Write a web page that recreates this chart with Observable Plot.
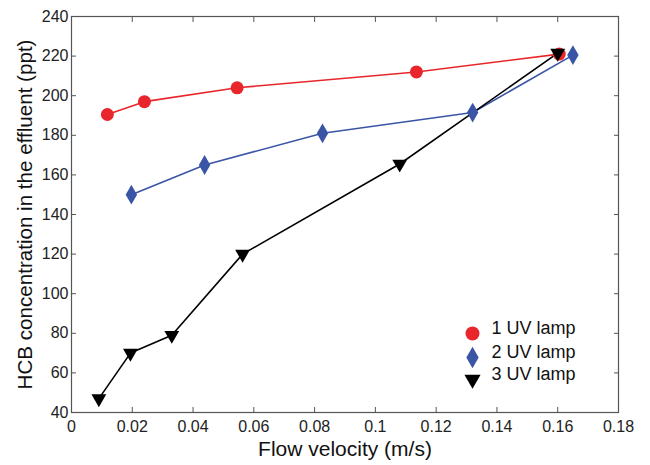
<!DOCTYPE html>
<html>
<head>
<meta charset="utf-8">
<script src="https://cdn.jsdelivr.net/npm/d3@7"></script>
<script src="https://cdn.jsdelivr.net/npm/@observablehq/plot@0.6"></script>
<style>
  html, body { margin: 0; padding: 0; background: #fff; }
  #chart svg { display: block; }
</style>
</head>
<body>
<div id="chart"></div>
<script>
const seriesNames = ["1 UV lamp", "2 UV lamp", "3 UV lamp"];
const seriesColors = ["#e8262c", "#3a55a6", "#000000"];
const seriesSymbols = ["circle", "diamond", "triangle"];
const seriesRotate = [0, 0, 180];

const x1 = [0.0118, 0.0240, 0.0545, 0.1135, 0.1605];
const y1 = [190.5, 197, 204, 212, 221];
const x2 = [0.0197, 0.0438, 0.0826, 0.1320, 0.1650];
const y2 = [150, 165, 181, 191.5, 220.5];
const x3 = [0.0090, 0.0194, 0.0330, 0.0563, 0.1080, 0.1600];
const y3 = [47, 70, 79, 120, 165.5, 221.5];

const xTicks = [0, 0.02, 0.04, 0.06, 0.08, 0.1, 0.12, 0.14, 0.16, 0.18];
const yTicks = [40, 60, 80, 100, 120, 140, 160, 180, 200, 220, 240];

const xs = [x1, x2, x3], ys = [y1, y2, y3];
const data = [];
seriesNames.forEach((s, i) => xs[i].forEach((x, j) => data.push({series: s, idx: i, x, y: ys[i][j]})));

const symR = [6.5, 6, 5.5];
const font = "Liberation Sans, Arial, Helvetica, sans-serif";
const marks = [
  Plot.frame({stroke: "#555", strokeWidth: 1.2}),
  Plot.axisX({anchor: "bottom", ticks: xTicks, tickSize: -5, tickPadding: 13, fontSize: 16,
    tickFormat: d => String(+d.toFixed(2)), label: null, stroke: "#555", color: "#222"}),
  Plot.axisX({anchor: "top", ticks: xTicks, tickSize: -5, tickFormat: () => "", label: null, stroke: "#555"}),
  Plot.axisY({anchor: "left", ticks: yTicks, tickSize: -5, tickPadding: 8, fontSize: 16,
    label: null, stroke: "#555", color: "#222"}),
  Plot.axisY({anchor: "right", ticks: yTicks, tickSize: -5, tickFormat: () => "", label: null, stroke: "#555"}),
];

seriesNames.forEach((s, i) => {
  const d = data.filter(e => e.idx === i);
  marks.push(Plot.line(d, {x: "x", y: "y", stroke: seriesColors[i], strokeWidth: 1.6}));
});
seriesNames.forEach((s, i) => {
  const d = data.filter(e => e.idx === i);
  marks.push(Plot.dot(d, {x: "x", y: "y", fill: seriesColors[i], stroke: "none",
    symbol: () => seriesSymbols[i], r: symR[i], rotate: seriesRotate[i]}));
});

// legend
const legendDy = [-79, -55, -33];
seriesNames.forEach((s, i) => {
  marks.push(Plot.dot([s], {frameAnchor: "bottom-right", dx: -146, dy: legendDy[i],
    fill: seriesColors[i], symbol: () => seriesSymbols[i], r: symR[i] + 0.5, rotate: seriesRotate[i]}));
  marks.push(Plot.text([s], {frameAnchor: "bottom-right", dx: -127, dy: legendDy[i], text: d => d,
    textAnchor: "start", fontSize: 18, fill: "#111"}));
});

marks.push(Plot.text(["Flow velocity (m/s)"], {frameAnchor: "bottom", dy: 37, lineAnchor: "middle",
  text: d => d, fontSize: 21, fill: "#111"}));
marks.push(Plot.text(["HCB concentration in the effluent (ppt)"], {frameAnchor: "left", dx: -46, rotate: -90,
  textAnchor: "middle", lineAnchor: "middle", text: d => d, fontSize: 20.6, fill: "#111"}));

const chart = Plot.plot({
  width: 650,
  height: 465,
  marginLeft: 71,
  marginRight: 32,
  marginTop: 16,
  marginBottom: 53,
  style: {fontFamily: font, background: "#fff", overflow: "visible"},
  x: {domain: [0, 0.18]},
  y: {domain: [40, 240]},
  symbol: {type: "identity"},
  marks
});
document.getElementById("chart").appendChild(chart);
</script>
</body>
</html>
